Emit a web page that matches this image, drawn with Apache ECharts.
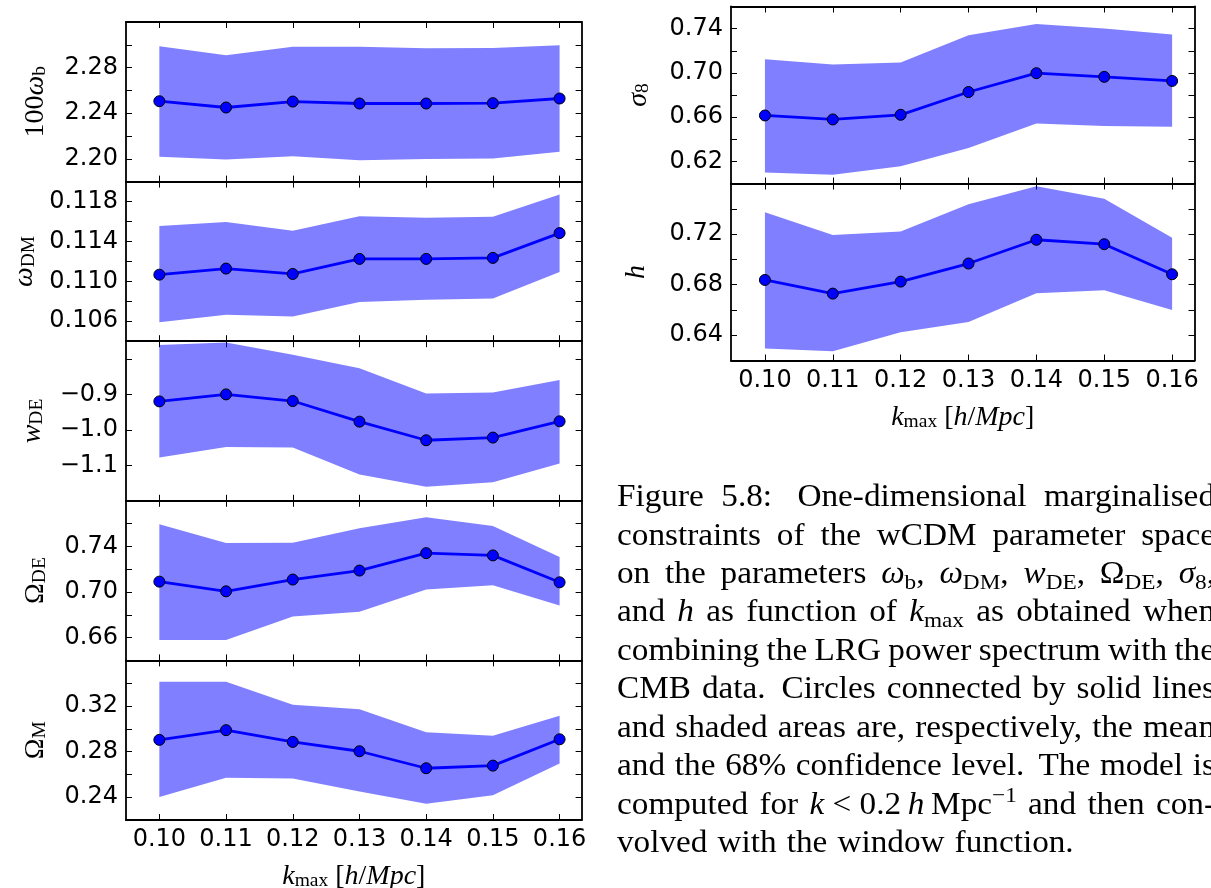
<!DOCTYPE html>
<html>
<head>
<meta charset="utf-8">
<script src="https://cdn.jsdelivr.net/npm/echarts@6/dist/echarts.min.js"></script>
<style>
  html, body { margin: 0; padding: 0; background: #ffffff; }
  #chart { width: 1211px; height: 888px; }
</style>
</head>
<body>
<div id="chart"></div>
<script>
// k_max [h/Mpc] at which the constraints were computed
const kmax = [0.10, 0.11, 0.12, 0.13, 0.14, 0.15, 0.16];
const kRange = [0.095, 0.1633];

// 100 omega_b : mean and 68% band
const obMean = [2.2505, 2.2450, 2.2502, 2.2485, 2.2485, 2.2488, 2.2529];
const obHigh = [2.2988, 2.2909, 2.2982, 2.2982, 2.2970, 2.2973, 2.2996];
const obLow  = [2.2017, 2.1994, 2.2023, 2.1988, 2.1999, 2.2002, 2.2061];
const obRange = [2.18, 2.32];
const obTicks = [2.20, 2.22, 2.24, 2.26, 2.28, 2.30];
const obLabels = [2.20, 2.24, 2.28];

// omega_DM
const odmMean = [0.11067, 0.11128, 0.11074, 0.11225, 0.11225, 0.11235, 0.11484];
const odmHigh = [0.11554, 0.11595, 0.11507, 0.11652, 0.11638, 0.11648, 0.11870];
const odmLow  = [0.10590, 0.10664, 0.10647, 0.10792, 0.10815, 0.10829, 0.11094];
const odmRange = [0.104, 0.120];
const odmTicks = [0.106, 0.108, 0.110, 0.112, 0.114, 0.116, 0.118];
const odmLabels = [0.106, 0.110, 0.114, 0.118];

// w_DE
const wMean = [-0.9197, -0.9000, -0.9187, -0.9768, -1.0293, -1.0218, -0.9759];
const wHigh = [-0.7604, -0.7538, -0.7885, -0.8260, -0.8972, -0.8944, -0.8597];
const wLow  = [-1.0780, -1.0480, -1.0500, -1.1258, -1.1605, -1.1480, -1.0950];
const wRange = [-1.2, -0.75];
const wTicks = [-1.1, -1.0, -0.9, -0.8];
const wLabels = [-1.1, -1.0, -0.9];

// Omega_DE
const odeMean = [0.7091, 0.7006, 0.7109, 0.7188, 0.7341, 0.7321, 0.7085];
const odeHigh = [0.7594, 0.7429, 0.7432, 0.7559, 0.7656, 0.7579, 0.7306];
const odeLow  = [0.6580, 0.6580, 0.6785, 0.6826, 0.7021, 0.7059, 0.6882];
const odeRange = [0.64, 0.78];
const odeTicks = [0.66, 0.68, 0.70, 0.72, 0.74, 0.76];
const odeLabels = [0.66, 0.70, 0.74];

// Omega_M
const omMean = [0.2903, 0.2988, 0.2885, 0.2803, 0.2654, 0.2677, 0.2908];
const omHigh = [0.3412, 0.3412, 0.3210, 0.3172, 0.2970, 0.2938, 0.3114];
const omLow  = [0.2402, 0.2571, 0.2565, 0.2451, 0.2342, 0.2418, 0.2695];
const omRange = [0.22, 0.36];
const omTicks = [0.24, 0.26, 0.28, 0.30, 0.32, 0.34];
const omLabels = [0.24, 0.28, 0.32];

// sigma_8
const s8Mean = [0.6615, 0.6579, 0.6621, 0.6827, 0.6997, 0.6964, 0.6927];
const s8High = [0.7124, 0.7076, 0.7094, 0.7341, 0.7441, 0.7402, 0.7347];
const s8Low  = [0.6100, 0.6079, 0.6155, 0.6321, 0.6543, 0.6519, 0.6513];
const s8Range = [0.60, 0.76];
const s8Ticks = [0.62, 0.64, 0.66, 0.68, 0.70, 0.72, 0.74];
const s8Labels = [0.62, 0.66, 0.70, 0.74];

// h
const hMean = [0.6837, 0.6729, 0.6824, 0.6967, 0.7155, 0.7120, 0.6882];
const hHigh = [0.7372, 0.7192, 0.7221, 0.7435, 0.7578, 0.7480, 0.7170];
const hLow  = [0.6295, 0.6273, 0.6424, 0.6504, 0.6731, 0.6755, 0.6599];
const hRange = [0.62, 0.76];
const hTicks = [0.64, 0.66, 0.68, 0.70, 0.72, 0.74];
const hLabels = [0.64, 0.68, 0.72];

// Axis titles (rich text)
const yNames = [
  '{r|100}{i|ω}{s|b}',
  '{i|ω}{s|DM}',
  '{i|w}{s|DE}',
  '{r|Ω}{s|DE}',
  '{r|Ω}{s|M}',
  '{i|σ}{s|8}',
  '{i|h}'
];
const xName = '{i|k}{s|max}{r| [}{i|h}{r|/}{i|Mpc}{r|]}';

// Caption lines: words made of segments; prefix * = italic, _ = subscript, ^ = superscript
const captionLines = [
  [['Figure'], ['5.8:'], ['One-dimensional'], ['marginalised']],
  [['constraints'], ['of'], ['the'], ['wCDM'], ['parameter'], ['space']],
  [['on'], ['the'], ['parameters'], ['*ω', '_b', ','], ['*ω', '_DM', ','], ['*w', '_DE', ','], ['Ω', '_DE', ','], ['*σ', '_8', ',']],
  [['and'], ['*h'], ['as'], ['function'], ['of'], ['*k', '_max'], ['as'], ['obtained'], ['when']],
  [['combining'], ['the'], ['LRG'], ['power'], ['spectrum'], ['with'], ['the']],
  [['CMB'], ['data.'], ['Circles'], ['connected'], ['by'], ['solid'], ['lines']],
  [['and'], ['shaded'], ['areas'], ['are,'], ['respectively,'], ['the'], ['mean']],
  [['and'], ['the'], ['68%'], ['confidence'], ['level.'], ['The'], ['model'], ['is']],
  [['computed'], ['for'], ['*k', ' < 0.2\u2009', '*h', '\u2009Mpc', '^\u22121'], ['and'], ['then'], ['con-']],
  [['volved'], ['with'], ['the'], ['window'], ['function.']]
];

// ---------------------------------------------------------------------------
const SERIF = 'Liberation Serif';
const SANS = 'DejaVu Sans';
const BLUE = '#0000ff';
const TICK_FONT = 24;

const panels = [
  { mean: obMean,  high: obHigh,  low: obLow,  range: obRange,  ticks: obTicks,  labels: obLabels,  dec: 2, name: yNames[0], gap: 76 },
  { mean: odmMean, high: odmHigh, low: odmLow, range: odmRange, ticks: odmTicks, labels: odmLabels, dec: 3, name: yNames[1], gap: 87 },
  { mean: wMean,   high: wHigh,   low: wLow,   range: wRange,   ticks: wTicks,   labels: wLabels,   dec: 1, name: yNames[2], gap: 79 },
  { mean: odeMean, high: odeHigh, low: odeLow, range: odeRange, ticks: odeTicks, labels: odeLabels, dec: 2, name: yNames[3], gap: 76 },
  { mean: omMean,  high: omHigh,  low: omLow,  range: omRange,  ticks: omTicks,  labels: omLabels,  dec: 2, name: yNames[4], gap: 76 },
  { mean: s8Mean,  high: s8High,  low: s8Low,  range: s8Range,  ticks: s8Ticks,  labels: s8Labels,  dec: 2, name: yNames[5], gap: 78 },
  { mean: hMean,   high: hHigh,   low: hLow,   range: hRange,   ticks: hTicks,   labels: hLabels,   dec: 2, name: yNames[6], gap: 80 }
];

// panel boxes: five stacked on the left, two on the right
const LEFT_X = 126, LEFT_W = 455.6, LEFT_TOP = 22, LEFT_H = 159.6;
const RIGHT_X = 731, RIGHT_W = 463.5, RIGHT_TOP = 6.5, RIGHT_H = 177;
const boxes = [];
for (let i = 0; i < 5; i++) boxes.push({ left: LEFT_X, top: LEFT_TOP + i * LEFT_H, width: LEFT_W, height: LEFT_H, bottom: i === 4 });
for (let i = 0; i < 2; i++) boxes.push({ left: RIGHT_X, top: RIGHT_TOP + i * RIGHT_H, width: RIGHT_W, height: RIGHT_H, bottom: i === 1 });

const nameRich = {
  r: { fontFamily: SERIF, fontSize: 28, color: '#000', lineHeight: 31, verticalAlign: 'bottom' },
  i: { fontFamily: SERIF, fontSize: 28, fontStyle: 'italic', color: '#000', lineHeight: 31, verticalAlign: 'bottom' },
  s: { fontFamily: SERIF, fontSize: 19.5, color: '#000', lineHeight: 13, verticalAlign: 'bottom' }
};

const frameLine = { show: true, onZero: false, lineStyle: { color: '#000', width: 1.8 } };
const tickStyle = { color: '#000', width: 1 };

const grids = [], xAxes = [], yAxes = [], series = [];

function fmt(v, d) {
  return (v < 0 ? '\u2212' : '') + Math.abs(v).toFixed(d);
}

panels.forEach((p, i) => {
  const b = boxes[i];
  grids.push({ left: b.left, top: b.top, width: b.width, height: b.height, containLabel: false, outerBoundsMode: 'none' });

  // bottom and top x axes (ticks point inward on both)
  xAxes.push({
    gridIndex: i, type: 'value', position: 'bottom', min: kRange[0], max: kRange[1],
    axisLine: frameLine,
    axisTick: { show: true, inside: true, length: 6, customValues: kmax, lineStyle: tickStyle },
    axisLabel: {
      show: b.bottom, customValues: kmax, margin: 8, formatter: v => v.toFixed(2),
      fontFamily: SANS, fontSize: TICK_FONT, color: '#000'
    },
    splitLine: { show: false },
    name: b.bottom ? xName : '', nameLocation: 'middle', nameGap: 40,
    nameTextStyle: { rich: nameRich }
  });
  xAxes.push({
    gridIndex: i, type: 'value', position: 'top', min: kRange[0], max: kRange[1],
    axisLine: frameLine,
    axisTick: { show: true, inside: true, length: 6, customValues: kmax, lineStyle: tickStyle },
    axisLabel: { show: false },
    splitLine: { show: false }
  });

  // left and right y axes
  yAxes.push({
    gridIndex: i, type: 'value', position: 'left', min: p.range[0], max: p.range[1],
    axisLine: frameLine,
    axisTick: { show: true, inside: true, length: 6, customValues: p.ticks, lineStyle: tickStyle },
    axisLabel: {
      show: true, customValues: p.labels, margin: 8, formatter: v => fmt(v, p.dec),
      fontFamily: SANS, fontSize: TICK_FONT, color: '#000'
    },
    splitLine: { show: false },
    name: p.name, nameLocation: 'middle', nameRotate: 90, nameGap: p.gap,
    nameTextStyle: { rich: nameRich }
  });
  yAxes.push({
    gridIndex: i, type: 'value', position: 'right', min: p.range[0], max: p.range[1],
    axisLine: frameLine,
    axisTick: { show: true, inside: true, length: 6, customValues: p.ticks, lineStyle: tickStyle },
    axisLabel: { show: false },
    splitLine: { show: false }
  });

  // 68% confidence band
  series.push({
    type: 'custom', xAxisIndex: 2 * i, yAxisIndex: 2 * i, clip: true, silent: true, z: 1,
    data: kmax.map((k, j) => [k, p.low[j], p.high[j]]),
    encode: { x: 0, y: [1, 2] },
    renderItem: (params, api) => {
      if (params.dataIndex !== 0) return null;
      const upper = kmax.map((k, j) => api.coord([k, p.high[j]]));
      const lower = kmax.map((k, j) => api.coord([k, p.low[j]])).reverse();
      return {
        type: 'polygon',
        shape: { points: upper.concat(lower) },
        style: { fill: 'rgba(0,0,255,0.5)', stroke: null }
      };
    }
  });

  // mean values
  series.push({
    type: 'line', xAxisIndex: 2 * i, yAxisIndex: 2 * i, z: 3,
    data: kmax.map((k, j) => [k, p.mean[j]]),
    symbol: 'circle', symbolSize: 11, showSymbol: true,
    lineStyle: { color: BLUE, width: 2.8 },
    itemStyle: { color: BLUE, borderColor: '#000', borderWidth: 1 },
    emphasis: { disabled: true }
  });
});

// ---------------------------------------------------------------------------
// Caption: justified paragraph laid out word by word
const CAP_SIZE = 30.5, CAP_SCALE_X = 1.09;
const CAP_LEFT = 617, CAP_RIGHT = 1215, CAP_BASE0 = 508.5, CAP_PITCH = 38.44;
const measureCtx = document.createElement('canvas').getContext('2d');

function segStyle(seg) {
  const c = seg[0];
  if (seg.length > 1 && c === '*') return { text: seg.slice(1), italic: true, size: CAP_SIZE, dy: 0 };
  if (seg.length > 1 && c === '_') return { text: seg.slice(1), italic: false, size: CAP_SIZE * 0.7, dy: CAP_SIZE * 0.16 };
  if (seg.length > 1 && c === '^') return { text: seg.slice(1), italic: false, size: CAP_SIZE * 0.7, dy: -CAP_SIZE * 0.40 };
  return { text: seg, italic: false, size: CAP_SIZE, dy: 0 };
}
function fontStr(s) {
  return (s.italic ? 'italic ' : '') + s.size + 'px "' + SERIF + '"';
}
function segWidth(s) {
  measureCtx.font = fontStr(s);
  return measureCtx.measureText(s.text).width * CAP_SCALE_X;
}

const captionEls = [];
captionLines.forEach((line, li) => {
  const base = CAP_BASE0 + li * CAP_PITCH;
  const words = line.map(w => {
    const segs = w.map(segStyle);
    segs.forEach(s => { s.w = segWidth(s); });
    return { segs, width: segs.reduce((a, s) => a + s.w, 0), text: w.join('') };
  });
  const total = words.reduce((a, w) => a + w.width, 0);
  // sentence-ending punctuation gets a wider stretch, as in TeX
  const weights = words.slice(0, -1).map(w => /[.:]$/.test(w.text) ? 1.45 : 1);
  const wsum = weights.reduce((a, b) => a + b, 0);
  const isLast = li === captionLines.length - 1;
  const unit = isLast ? CAP_SIZE * 0.33 : (CAP_RIGHT - CAP_LEFT - total) / wsum;
  let x = CAP_LEFT;
  words.forEach((w, wi) => {
    w.segs.forEach(s => {
      captionEls.push({
        type: 'text', x: x, y: base + s.dy - 0.34 * s.size, scaleX: CAP_SCALE_X, silent: true,
        style: {
          x: 0, y: 0, text: s.text, fill: '#000', align: 'left', verticalAlign: 'middle',
          font: fontStr(s)
        }
      });
      x += s.w;
    });
    if (wi < words.length - 1) x += unit * (isLast ? 1 : weights[wi]);
  });
});

const chart = echarts.init(document.getElementById('chart'), null, { renderer: 'canvas' });
chart.setOption({
  animation: false,
  backgroundColor: '#ffffff',
  textStyle: { fontFamily: SANS },
  grid: grids,
  xAxis: xAxes,
  yAxis: yAxes,
  series: series,
  graphic: { elements: captionEls }
});
</script>
</body>
</html>
